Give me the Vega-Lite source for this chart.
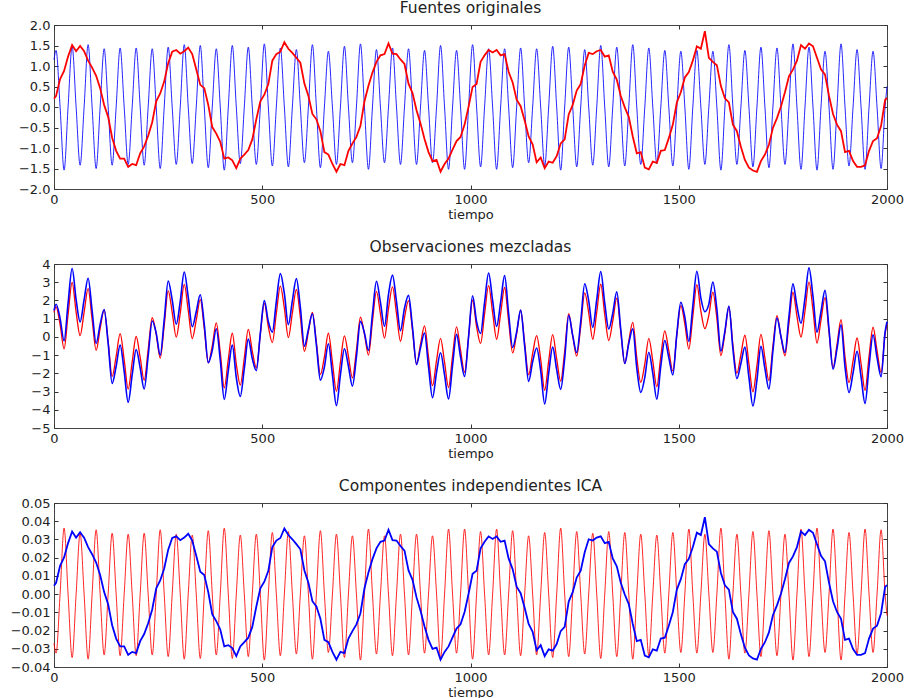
{
"$schema": "https://vega.github.io/schema/vega-lite/v6.json",
"background": "white",
"padding": {"left": 9, "top": 0, "right": 5, "bottom": 0},
"bounds": "flush",
"spacing": 75,
"config": {
"font": "DejaVu Sans",
"view": {"stroke": "#444", "strokeWidth": 1},
"axis": {"grid": false, "domain": false, "tickColor": "#333", "tickSize": -4, "labelPadding": 8, "labelFontSize": 13, "labelColor": "#222", "labelFont": "DejaVu Sans", "titleFont": "DejaVu Sans", "titleFontSize": 13, "titleFontWeight": "normal", "titleColor": "#222", "labelFlush": false, "labelOverlap": false, "titlePadding": 2},
"title": {"fontSize": 15.5, "fontWeight": "normal", "color": "#222", "font": "DejaVu Sans", "offset": 3}
},
"data": {"values": [
{"t":0,"s1":0.2,"s2":1.15,"m1":1.35,"m2":1.45,"c1":-0.027,"c2":0.0046},
{"t":5,"s1":0.27,"s2":1.38,"m1":1.65,"m2":1.79,"c1":-0.0324,"c2":0.0062},
{"t":14.6,"s1":0.68,"s2":0,"m1":0.68,"m2":1.02,"c1":0,"c2":0.0155},
{"t":24.2,"s1":0.88,"s2":-1.54,"m1":-0.66,"m2":-0.22,"c1":0.0362,"c2":0.0201},
{"t":33.8,"s1":1.23,"s2":0,"m1":1.23,"m2":1.85,"c1":0,"c2":0.028},
{"t":43.5,"s1":1.51,"s2":1.48,"m1":2.99,"m2":3.75,"c1":-0.0348,"c2":0.0344},
{"t":53.1,"s1":1.36,"s2":0,"m1":1.36,"m2":2.04,"c1":0,"c2":0.031},
{"t":62.7,"s1":1.49,"s2":-1.42,"m1":0.07,"m2":0.82,"c1":0.0334,"c2":0.034},
{"t":72.3,"s1":1.36,"s2":0,"m1":1.36,"m2":2.04,"c1":0,"c2":0.031},
{"t":81.9,"s1":1.13,"s2":1.52,"m1":2.65,"m2":3.22,"c1":-0.0357,"c2":0.0258},
{"t":91.5,"s1":0.96,"s2":0,"m1":0.96,"m2":1.44,"c1":0,"c2":0.0219},
{"t":101.2,"s1":0.76,"s2":-1.5,"m1":-0.74,"m2":-0.36,"c1":0.0353,"c2":0.0173},
{"t":110.8,"s1":0.46,"s2":0,"m1":0.46,"m2":0.69,"c1":0,"c2":0.0105},
{"t":120.4,"s1":0.05,"s2":1.42,"m1":1.47,"m2":1.5,"c1":-0.0334,"c2":0.0011},
{"t":130,"s1":-0.24,"s2":0,"m1":-0.24,"m2":-0.36,"c1":0,"c2":-0.0055},
{"t":139.6,"s1":-0.75,"s2":-1.42,"m1":-2.17,"m2":-2.55,"c1":0.0334,"c2":-0.0171},
{"t":149.2,"s1":-1.07,"s2":0,"m1":-1.07,"m2":-1.61,"c1":0,"c2":-0.0244},
{"t":158.8,"s1":-1.26,"s2":1.44,"m1":0.18,"m2":-0.45,"c1":-0.0338,"c2":-0.0287},
{"t":168.5,"s1":-1.26,"s2":0,"m1":-1.26,"m2":-1.89,"c1":0,"c2":-0.0287},
{"t":178.1,"s1":-1.46,"s2":-1.4,"m1":-2.86,"m2":-3.59,"c1":0.0329,"c2":-0.0333},
{"t":187.7,"s1":-1.39,"s2":0,"m1":-1.39,"m2":-2.09,"c1":0,"c2":-0.0317},
{"t":197.3,"s1":-1.42,"s2":1.44,"m1":0.02,"m2":-0.69,"c1":-0.0338,"c2":-0.0324},
{"t":206.9,"s1":-1.13,"s2":0,"m1":-1.13,"m2":-1.7,"c1":0,"c2":-0.0258},
{"t":216.5,"s1":-0.96,"s2":-1.42,"m1":-2.38,"m2":-2.86,"c1":0.0334,"c2":-0.0219},
{"t":226.1,"s1":-0.7,"s2":0,"m1":-0.7,"m2":-1.05,"c1":0,"c2":-0.016},
{"t":235.8,"s1":-0.37,"s2":1.42,"m1":1.05,"m2":0.87,"c1":-0.0334,"c2":-0.0084},
{"t":245.4,"s1":0.14,"s2":0,"m1":0.14,"m2":0.21,"c1":0,"c2":0.0032},
{"t":255,"s1":0.33,"s2":-1.5,"m1":-1.17,"m2":-1.01,"c1":0.0353,"c2":0.0075},
{"t":264.6,"s1":0.62,"s2":0,"m1":0.62,"m2":0.93,"c1":0,"c2":0.0141},
{"t":274.2,"s1":1.07,"s2":1.46,"m1":2.53,"m2":3.07,"c1":-0.0343,"c2":0.0244},
{"t":283.8,"s1":1.35,"s2":0,"m1":1.35,"m2":2.03,"c1":0,"c2":0.0308},
{"t":293.5,"s1":1.39,"s2":-1.4,"m1":-0.01,"m2":0.69,"c1":0.0329,"c2":0.0317},
{"t":303.1,"s1":1.3,"s2":0,"m1":1.3,"m2":1.95,"c1":0,"c2":0.0296},
{"t":312.7,"s1":1.36,"s2":1.52,"m1":2.88,"m2":3.56,"c1":-0.0357,"c2":0.031},
{"t":322.3,"s1":1.45,"s2":0,"m1":1.45,"m2":2.18,"c1":0,"c2":0.0331},
{"t":331.9,"s1":1.29,"s2":-1.38,"m1":-0.09,"m2":0.56,"c1":0.0324,"c2":0.0294},
{"t":341.5,"s1":0.92,"s2":0,"m1":0.92,"m2":1.38,"c1":0,"c2":0.021},
{"t":351.2,"s1":0.54,"s2":1.5,"m1":2.04,"m2":2.31,"c1":-0.0353,"c2":0.0123},
{"t":360.8,"s1":0.46,"s2":0,"m1":0.46,"m2":0.69,"c1":0,"c2":0.0105},
{"t":370.4,"s1":0.05,"s2":-1.48,"m1":-1.43,"m2":-1.41,"c1":0.0348,"c2":0.0011},
{"t":380,"s1":-0.49,"s2":0,"m1":-0.49,"m2":-0.74,"c1":0,"c2":-0.0112},
{"t":389.6,"s1":-0.65,"s2":1.42,"m1":0.77,"m2":0.45,"c1":-0.0334,"c2":-0.0148},
{"t":399.2,"s1":-0.85,"s2":0,"m1":-0.85,"m2":-1.28,"c1":0,"c2":-0.0194},
{"t":408.8,"s1":-1.26,"s2":-1.54,"m1":-2.8,"m2":-3.43,"c1":0.0362,"c2":-0.0287},
{"t":418.5,"s1":-1.23,"s2":0,"m1":-1.23,"m2":-1.85,"c1":0,"c2":-0.028},
{"t":428.1,"s1":-1.3,"s2":1.5,"m1":0.2,"m2":-0.45,"c1":-0.0353,"c2":-0.0296},
{"t":437.7,"s1":-1.49,"s2":0,"m1":-1.49,"m2":-2.24,"c1":0,"c2":-0.034},
{"t":447.3,"s1":-1.26,"s2":-1.38,"m1":-2.64,"m2":-3.27,"c1":0.0324,"c2":-0.0287},
{"t":456.9,"s1":-1.16,"s2":0,"m1":-1.16,"m2":-1.74,"c1":0,"c2":-0.0264},
{"t":466.5,"s1":-1.05,"s2":1.46,"m1":0.41,"m2":-0.12,"c1":-0.0343,"c2":-0.0239},
{"t":476.1,"s1":-0.79,"s2":0,"m1":-0.79,"m2":-1.19,"c1":0,"c2":-0.018},
{"t":485.8,"s1":-0.3,"s2":-1.4,"m1":-1.7,"m2":-1.85,"c1":0.0329,"c2":-0.0068},
{"t":495.4,"s1":0.14,"s2":0,"m1":0.14,"m2":0.21,"c1":0,"c2":0.0032},
{"t":505,"s1":0.3,"s2":1.54,"m1":1.84,"m2":1.99,"c1":-0.0362,"c2":0.0068},
{"t":514.6,"s1":0.56,"s2":0,"m1":0.56,"m2":0.84,"c1":0,"c2":0.0128},
{"t":524.2,"s1":1.13,"s2":-1.44,"m1":-0.31,"m2":0.26,"c1":0.0338,"c2":0.0258},
{"t":533.8,"s1":1.29,"s2":0,"m1":1.29,"m2":1.94,"c1":0,"c2":0.0294},
{"t":543.5,"s1":1.35,"s2":1.44,"m1":2.79,"m2":3.47,"c1":-0.0338,"c2":0.0308},
{"t":553.1,"s1":1.58,"s2":0,"m1":1.58,"m2":2.37,"c1":0,"c2":0.036},
{"t":562.7,"s1":1.42,"s2":-1.46,"m1":-0.04,"m2":0.67,"c1":0.0343,"c2":0.0324},
{"t":572.3,"s1":1.32,"s2":0,"m1":1.32,"m2":1.98,"c1":0,"c2":0.0301},
{"t":581.9,"s1":1.2,"s2":1.4,"m1":2.6,"m2":3.2,"c1":-0.0329,"c2":0.0274},
{"t":591.5,"s1":1.08,"s2":0,"m1":1.08,"m2":1.62,"c1":0,"c2":0.0246},
{"t":601.2,"s1":0.57,"s2":-1.36,"m1":-0.79,"m2":-0.51,"c1":0.032,"c2":0.013},
{"t":610.8,"s1":0.27,"s2":0,"m1":0.27,"m2":0.41,"c1":0,"c2":0.0062},
{"t":620.4,"s1":-0.17,"s2":1.52,"m1":1.35,"m2":1.27,"c1":-0.0357,"c2":-0.0039},
{"t":630,"s1":-0.3,"s2":0,"m1":-0.3,"m2":-0.45,"c1":0,"c2":-0.0068},
{"t":639.6,"s1":-0.59,"s2":-1.48,"m1":-2.07,"m2":-2.37,"c1":0.0348,"c2":-0.0135},
{"t":649.2,"s1":-1.1,"s2":0,"m1":-1.1,"m2":-1.65,"c1":0,"c2":-0.0251},
{"t":658.8,"s1":-1.16,"s2":1.36,"m1":0.2,"m2":-0.38,"c1":-0.032,"c2":-0.0264},
{"t":668.5,"s1":-1.39,"s2":0,"m1":-1.39,"m2":-2.09,"c1":0,"c2":-0.0317},
{"t":678.1,"s1":-1.58,"s2":-1.4,"m1":-2.98,"m2":-3.77,"c1":0.0329,"c2":-0.036},
{"t":687.7,"s1":-1.39,"s2":0,"m1":-1.39,"m2":-2.09,"c1":0,"c2":-0.0317},
{"t":697.3,"s1":-1.42,"s2":1.48,"m1":0.06,"m2":-0.65,"c1":-0.0348,"c2":-0.0324},
{"t":706.9,"s1":-1.07,"s2":0,"m1":-1.07,"m2":-1.61,"c1":0,"c2":-0.0244},
{"t":716.5,"s1":-0.89,"s2":-1.36,"m1":-2.25,"m2":-2.7,"c1":0.032,"c2":-0.0203},
{"t":726.1,"s1":-0.73,"s2":0,"m1":-0.73,"m2":-1.1,"c1":0,"c2":-0.0166},
{"t":735.8,"s1":-0.46,"s2":1.54,"m1":1.08,"m2":0.85,"c1":-0.0362,"c2":-0.0105},
{"t":745.4,"s1":0.14,"s2":0,"m1":0.14,"m2":0.21,"c1":0,"c2":0.0032},
{"t":755,"s1":0.52,"s2":-1.52,"m1":-1,"m2":-0.74,"c1":0.0357,"c2":0.0119},
{"t":764.6,"s1":0.84,"s2":0,"m1":0.84,"m2":1.26,"c1":0,"c2":0.0192},
{"t":774.2,"s1":1.1,"s2":1.4,"m1":2.5,"m2":3.05,"c1":-0.0329,"c2":0.0251},
{"t":783.8,"s1":1.26,"s2":0,"m1":1.26,"m2":1.89,"c1":0,"c2":0.0287},
{"t":793.5,"s1":1.29,"s2":-1.36,"m1":-0.07,"m2":0.58,"c1":0.032,"c2":0.0294},
{"t":803.1,"s1":1.55,"s2":0,"m1":1.55,"m2":2.33,"c1":0,"c2":0.0353},
{"t":812.7,"s1":1.3,"s2":1.44,"m1":2.74,"m2":3.39,"c1":-0.0338,"c2":0.0296},
{"t":822.3,"s1":1.29,"s2":0,"m1":1.29,"m2":1.94,"c1":0,"c2":0.0294},
{"t":831.9,"s1":1.16,"s2":-1.4,"m1":-0.24,"m2":0.34,"c1":0.0329,"c2":0.0264},
{"t":841.5,"s1":1.05,"s2":0,"m1":1.05,"m2":1.58,"c1":0,"c2":0.0239},
{"t":851.2,"s1":0.57,"s2":1.42,"m1":1.99,"m2":2.28,"c1":-0.0334,"c2":0.013},
{"t":860.8,"s1":0.34,"s2":0,"m1":0.34,"m2":0.51,"c1":0,"c2":0.0078},
{"t":870.4,"s1":-0.08,"s2":-1.4,"m1":-1.48,"m2":-1.52,"c1":0.0329,"c2":-0.0018},
{"t":880,"s1":-0.4,"s2":0,"m1":-0.4,"m2":-0.6,"c1":0,"c2":-0.0091},
{"t":889.6,"s1":-0.78,"s2":1.38,"m1":0.6,"m2":0.21,"c1":-0.0324,"c2":-0.0178},
{"t":899.2,"s1":-1.1,"s2":0,"m1":-1.1,"m2":-1.65,"c1":0,"c2":-0.0251},
{"t":908.8,"s1":-1.32,"s2":-1.36,"m1":-2.68,"m2":-3.34,"c1":0.032,"c2":-0.0301},
{"t":918.5,"s1":-1.29,"s2":0,"m1":-1.29,"m2":-1.94,"c1":0,"c2":-0.0294},
{"t":928.1,"s1":-1.58,"s2":1.5,"m1":-0.08,"m2":-0.87,"c1":-0.0353,"c2":-0.036},
{"t":937.7,"s1":-1.39,"s2":0,"m1":-1.39,"m2":-2.09,"c1":0,"c2":-0.0317},
{"t":947.3,"s1":-1.26,"s2":-1.52,"m1":-2.78,"m2":-3.41,"c1":0.0357,"c2":-0.0287},
{"t":956.9,"s1":-1.04,"s2":0,"m1":-1.04,"m2":-1.56,"c1":0,"c2":-0.0237},
{"t":966.5,"s1":-0.83,"s2":1.38,"m1":0.55,"m2":0.14,"c1":-0.0324,"c2":-0.0189},
{"t":976.1,"s1":-0.73,"s2":0,"m1":-0.73,"m2":-1.1,"c1":0,"c2":-0.0166},
{"t":985.8,"s1":-0.43,"s2":-1.52,"m1":-1.95,"m2":-2.17,"c1":0.0357,"c2":-0.0098},
{"t":995.4,"s1":0.01,"s2":0,"m1":0.01,"m2":0.02,"c1":0,"c2":0.0002},
{"t":1005,"s1":0.49,"s2":1.52,"m1":2.01,"m2":2.26,"c1":-0.0357,"c2":0.0112},
{"t":1014.6,"s1":0.56,"s2":0,"m1":0.56,"m2":0.84,"c1":0,"c2":0.0128},
{"t":1024.2,"s1":1.1,"s2":-1.46,"m1":-0.36,"m2":0.19,"c1":0.0343,"c2":0.0251},
{"t":1033.8,"s1":1.26,"s2":0,"m1":1.26,"m2":1.89,"c1":0,"c2":0.0287},
{"t":1043.5,"s1":1.39,"s2":1.42,"m1":2.81,"m2":3.51,"c1":-0.0334,"c2":0.0317},
{"t":1053.1,"s1":1.33,"s2":0,"m1":1.33,"m2":2,"c1":0,"c2":0.0303},
{"t":1062.7,"s1":1.39,"s2":-1.52,"m1":-0.13,"m2":0.57,"c1":0.0357,"c2":0.0317},
{"t":1072.3,"s1":1.26,"s2":0,"m1":1.26,"m2":1.89,"c1":0,"c2":0.0287},
{"t":1081.9,"s1":1.29,"s2":1.42,"m1":2.71,"m2":3.36,"c1":-0.0334,"c2":0.0294},
{"t":1091.5,"s1":0.86,"s2":0,"m1":0.86,"m2":1.29,"c1":0,"c2":0.0196},
{"t":1101.2,"s1":0.6,"s2":-1.48,"m1":-0.88,"m2":-0.58,"c1":0.0348,"c2":0.0137},
{"t":1110.8,"s1":0.18,"s2":0,"m1":0.18,"m2":0.27,"c1":0,"c2":0.0041},
{"t":1120.4,"s1":0.02,"s2":1.44,"m1":1.46,"m2":1.47,"c1":-0.0338,"c2":0.0005},
{"t":1130,"s1":-0.33,"s2":0,"m1":-0.33,"m2":-0.5,"c1":0,"c2":-0.0075},
{"t":1139.6,"s1":-0.72,"s2":-1.36,"m1":-2.08,"m2":-2.44,"c1":0.032,"c2":-0.0164},
{"t":1149.2,"s1":-0.91,"s2":0,"m1":-0.91,"m2":-1.37,"c1":0,"c2":-0.0207},
{"t":1158.8,"s1":-1.35,"s2":1.42,"m1":0.07,"m2":-0.61,"c1":-0.0334,"c2":-0.0308},
{"t":1168.5,"s1":-1.23,"s2":0,"m1":-1.23,"m2":-1.85,"c1":0,"c2":-0.028},
{"t":1178.1,"s1":-1.49,"s2":-1.44,"m1":-2.93,"m2":-3.68,"c1":0.0338,"c2":-0.034},
{"t":1187.7,"s1":-1.33,"s2":0,"m1":-1.33,"m2":-2,"c1":0,"c2":-0.0303},
{"t":1197.3,"s1":-1.36,"s2":1.48,"m1":0.12,"m2":-0.56,"c1":-0.0348,"c2":-0.031},
{"t":1206.9,"s1":-1.2,"s2":0,"m1":-1.2,"m2":-1.8,"c1":0,"c2":-0.0274},
{"t":1216.5,"s1":-0.89,"s2":-1.54,"m1":-2.43,"m2":-2.88,"c1":0.0362,"c2":-0.0203},
{"t":1226.1,"s1":-0.79,"s2":0,"m1":-0.79,"m2":-1.19,"c1":0,"c2":-0.018},
{"t":1235.8,"s1":-0.18,"s2":1.46,"m1":1.28,"m2":1.19,"c1":-0.0343,"c2":-0.0041},
{"t":1245.4,"s1":0.05,"s2":0,"m1":0.05,"m2":0.08,"c1":0,"c2":0.0011},
{"t":1255,"s1":0.4,"s2":-1.46,"m1":-1.06,"m2":-0.86,"c1":0.0343,"c2":0.0091},
{"t":1264.6,"s1":0.56,"s2":0,"m1":0.56,"m2":0.84,"c1":0,"c2":0.0128},
{"t":1274.2,"s1":1.01,"s2":1.4,"m1":2.41,"m2":2.92,"c1":-0.0329,"c2":0.023},
{"t":1283.8,"s1":1.32,"s2":0,"m1":1.32,"m2":1.98,"c1":0,"c2":0.0301},
{"t":1293.5,"s1":1.29,"s2":-1.42,"m1":-0.13,"m2":0.52,"c1":0.0334,"c2":0.0294},
{"t":1303.1,"s1":1.36,"s2":0,"m1":1.36,"m2":2.04,"c1":0,"c2":0.031},
{"t":1312.7,"s1":1.39,"s2":1.5,"m1":2.89,"m2":3.59,"c1":-0.0353,"c2":0.0317},
{"t":1322.3,"s1":1.23,"s2":0,"m1":1.23,"m2":1.85,"c1":0,"c2":0.028},
{"t":1331.9,"s1":1.26,"s2":-1.46,"m1":-0.2,"m2":0.43,"c1":0.0343,"c2":0.0287},
{"t":1341.5,"s1":0.86,"s2":0,"m1":0.86,"m2":1.29,"c1":0,"c2":0.0196},
{"t":1351.2,"s1":0.67,"s2":1.46,"m1":2.13,"m2":2.47,"c1":-0.0343,"c2":0.0153},
{"t":1360.8,"s1":0.27,"s2":0,"m1":0.27,"m2":0.41,"c1":0,"c2":0.0062},
{"t":1370.4,"s1":-0.01,"s2":-1.44,"m1":-1.45,"m2":-1.46,"c1":0.0338,"c2":-0.0002},
{"t":1380,"s1":-0.24,"s2":0,"m1":-0.24,"m2":-0.36,"c1":0,"c2":-0.0055},
{"t":1389.6,"s1":-0.72,"s2":1.52,"m1":0.8,"m2":0.44,"c1":-0.0357,"c2":-0.0164},
{"t":1399.2,"s1":-1.13,"s2":0,"m1":-1.13,"m2":-1.7,"c1":0,"c2":-0.0258},
{"t":1408.8,"s1":-1.1,"s2":-1.4,"m1":-2.5,"m2":-3.05,"c1":0.0329,"c2":-0.0251},
{"t":1418.5,"s1":-1.48,"s2":0,"m1":-1.48,"m2":-2.22,"c1":0,"c2":-0.0337},
{"t":1428.1,"s1":-1.52,"s2":1.44,"m1":-0.08,"m2":-0.84,"c1":-0.0338,"c2":-0.0347},
{"t":1437.7,"s1":-1.33,"s2":0,"m1":-1.33,"m2":-2,"c1":0,"c2":-0.0303},
{"t":1447.3,"s1":-1.36,"s2":-1.38,"m1":-2.74,"m2":-3.42,"c1":0.0324,"c2":-0.031},
{"t":1456.9,"s1":-1.07,"s2":0,"m1":-1.07,"m2":-1.61,"c1":0,"c2":-0.0244},
{"t":1466.5,"s1":-1.05,"s2":1.38,"m1":0.33,"m2":-0.2,"c1":-0.0324,"c2":-0.0239},
{"t":1476.1,"s1":-0.76,"s2":0,"m1":-0.76,"m2":-1.14,"c1":0,"c2":-0.0173},
{"t":1485.8,"s1":-0.43,"s2":-1.44,"m1":-1.87,"m2":-2.09,"c1":0.0338,"c2":-0.0098},
{"t":1495.4,"s1":0.11,"s2":0,"m1":0.11,"m2":0.17,"c1":0,"c2":0.0025},
{"t":1505,"s1":0.36,"s2":1.36,"m1":1.72,"m2":1.9,"c1":-0.032,"c2":0.0082},
{"t":1514.6,"s1":0.72,"s2":0,"m1":0.72,"m2":1.08,"c1":0,"c2":0.0164},
{"t":1524.2,"s1":0.85,"s2":-1.52,"m1":-0.67,"m2":-0.25,"c1":0.0357,"c2":0.0194},
{"t":1533.8,"s1":1.13,"s2":0,"m1":1.13,"m2":1.7,"c1":0,"c2":0.0258},
{"t":1543.5,"s1":1.48,"s2":1.38,"m1":2.86,"m2":3.6,"c1":-0.0324,"c2":0.0337},
{"t":1553.1,"s1":1.42,"s2":0,"m1":1.42,"m2":2.13,"c1":0,"c2":0.0324},
{"t":1562.7,"s1":1.85,"s2":-1.4,"m1":0.45,"m2":1.38,"c1":0.0329,"c2":0.0422},
{"t":1572.3,"s1":1.2,"s2":0,"m1":1.2,"m2":1.8,"c1":0,"c2":0.0274},
{"t":1581.9,"s1":1.1,"s2":1.36,"m1":2.46,"m2":3.01,"c1":-0.032,"c2":0.0251},
{"t":1591.5,"s1":1.02,"s2":0,"m1":1.02,"m2":1.53,"c1":0,"c2":0.0233},
{"t":1601.2,"s1":0.51,"s2":-1.54,"m1":-1.03,"m2":-0.78,"c1":0.0362,"c2":0.0116},
{"t":1610.8,"s1":0.21,"s2":0,"m1":0.21,"m2":0.32,"c1":0,"c2":0.0048},
{"t":1620.4,"s1":0.11,"s2":1.52,"m1":1.63,"m2":1.69,"c1":-0.0357,"c2":0.0025},
{"t":1630,"s1":-0.43,"s2":0,"m1":-0.43,"m2":-0.65,"c1":0,"c2":-0.0098},
{"t":1639.6,"s1":-0.59,"s2":-1.4,"m1":-1.99,"m2":-2.29,"c1":0.0329,"c2":-0.0135},
{"t":1649.2,"s1":-0.97,"s2":0,"m1":-0.97,"m2":-1.46,"c1":0,"c2":-0.0221},
{"t":1658.8,"s1":-1.29,"s2":1.38,"m1":0.09,"m2":-0.56,"c1":-0.0324,"c2":-0.0294},
{"t":1668.5,"s1":-1.48,"s2":0,"m1":-1.48,"m2":-2.22,"c1":0,"c2":-0.0337},
{"t":1678.1,"s1":-1.55,"s2":-1.46,"m1":-3.01,"m2":-3.79,"c1":0.0343,"c2":-0.0353},
{"t":1687.7,"s1":-1.58,"s2":0,"m1":-1.58,"m2":-2.37,"c1":0,"c2":-0.036},
{"t":1697.3,"s1":-1.32,"s2":1.46,"m1":0.14,"m2":-0.52,"c1":-0.0343,"c2":-0.0301},
{"t":1706.9,"s1":-1.16,"s2":0,"m1":-1.16,"m2":-1.74,"c1":0,"c2":-0.0264},
{"t":1716.5,"s1":-0.92,"s2":-1.48,"m1":-2.4,"m2":-2.86,"c1":0.0348,"c2":-0.021},
{"t":1726.1,"s1":-0.51,"s2":0,"m1":-0.51,"m2":-0.77,"c1":0,"c2":-0.0116},
{"t":1735.8,"s1":-0.27,"s2":1.44,"m1":1.17,"m2":1.04,"c1":-0.0338,"c2":-0.0062},
{"t":1745.4,"s1":0.01,"s2":0,"m1":0.01,"m2":0.02,"c1":0,"c2":0.0002},
{"t":1755,"s1":0.36,"s2":-1.4,"m1":-1.04,"m2":-0.86,"c1":0.0329,"c2":0.0082},
{"t":1764.6,"s1":0.75,"s2":0,"m1":0.75,"m2":1.13,"c1":0,"c2":0.0171},
{"t":1774.2,"s1":0.91,"s2":1.54,"m1":2.45,"m2":2.91,"c1":-0.0362,"c2":0.0207},
{"t":1783.8,"s1":1.13,"s2":0,"m1":1.13,"m2":1.7,"c1":0,"c2":0.0258},
{"t":1793.5,"s1":1.51,"s2":-1.52,"m1":-0.01,"m2":0.75,"c1":0.0357,"c2":0.0344},
{"t":1803.1,"s1":1.42,"s2":0,"m1":1.42,"m2":2.13,"c1":0,"c2":0.0324},
{"t":1812.7,"s1":1.55,"s2":1.46,"m1":3.01,"m2":3.79,"c1":-0.0343,"c2":0.0353},
{"t":1822.3,"s1":1.48,"s2":0,"m1":1.48,"m2":2.22,"c1":0,"c2":0.0337},
{"t":1831.9,"s1":1.2,"s2":-1.54,"m1":-0.34,"m2":0.26,"c1":0.0362,"c2":0.0274},
{"t":1841.5,"s1":0.92,"s2":0,"m1":0.92,"m2":1.38,"c1":0,"c2":0.021},
{"t":1851.2,"s1":0.79,"s2":1.36,"m1":2.15,"m2":2.55,"c1":-0.032,"c2":0.018},
{"t":1860.8,"s1":0.27,"s2":0,"m1":0.27,"m2":0.41,"c1":0,"c2":0.0062},
{"t":1870.4,"s1":-0.17,"s2":-1.52,"m1":-1.69,"m2":-1.78,"c1":0.0357,"c2":-0.0039},
{"t":1880,"s1":-0.43,"s2":0,"m1":-0.43,"m2":-0.65,"c1":0,"c2":-0.0098},
{"t":1889.6,"s1":-0.59,"s2":1.54,"m1":0.95,"m2":0.66,"c1":-0.0362,"c2":-0.0135},
{"t":1899.2,"s1":-1.1,"s2":0,"m1":-1.1,"m2":-1.65,"c1":0,"c2":-0.0251},
{"t":1908.8,"s1":-1.07,"s2":-1.44,"m1":-2.51,"m2":-3.05,"c1":0.0338,"c2":-0.0244},
{"t":1918.5,"s1":-1.32,"s2":0,"m1":-1.32,"m2":-1.98,"c1":0,"c2":-0.0301},
{"t":1928.1,"s1":-1.46,"s2":1.4,"m1":-0.06,"m2":-0.79,"c1":-0.0329,"c2":-0.0333},
{"t":1937.7,"s1":-1.46,"s2":0,"m1":-1.46,"m2":-2.19,"c1":0,"c2":-0.0333},
{"t":1947.3,"s1":-1.42,"s2":-1.52,"m1":-2.94,"m2":-3.65,"c1":0.0357,"c2":-0.0324},
{"t":1956.9,"s1":-1.07,"s2":0,"m1":-1.07,"m2":-1.61,"c1":0,"c2":-0.0244},
{"t":1966.5,"s1":-0.83,"s2":1.36,"m1":0.53,"m2":0.12,"c1":-0.032,"c2":-0.0189},
{"t":1976.1,"s1":-0.76,"s2":0,"m1":-0.76,"m2":-1.14,"c1":0,"c2":-0.0173},
{"t":1985.8,"s1":-0.46,"s2":-1.5,"m1":-1.96,"m2":-2.19,"c1":0.0353,"c2":-0.0105},
{"t":1995.4,"s1":0.17,"s2":0,"m1":0.17,"m2":0.26,"c1":0,"c2":0.0039},
{"t":2000,"s1":0.22,"s2":0.5,"m1":0.72,"m2":0.83,"c1":-0.0118,"c2":0.005}
]},
"vconcat": [
{
"width": 833, "height": 164,
"title": {"text": "Fuentes originales"},
"resolve": {"axis": {"x": "independent", "y": "independent"}},
"layer": [
{"mark": {"type": "line", "color": "#0000ff", "strokeWidth": 1, "opacity": 0.85, "interpolate": "monotone"}, "encoding": {
"x": {"field": "t", "type": "quantitative", "scale": {"domain": [0, 2000], "nice": false}, "axis": {"values": [0, 500, 1000, 1500, 2000], "format": "d", "title": "tiempo"}},
"y": {"field": "s2", "type": "quantitative", "scale": {"domain": [-2, 2], "nice": false}, "axis": {"values": [-2, -1.5, -1, -0.5, 0, 0.5, 1, 1.5, 2], "format": ".1f", "title": null}}}},
{"mark": {"type": "line", "color": "#ff0000", "strokeWidth": 1.8}, "encoding": {
"x": {"field": "t", "type": "quantitative", "scale": {"domain": [0, 2000], "nice": false}, "axis": {"orient": "top", "values": [0, 500, 1000, 1500, 2000], "labels": false, "title": null}},
"y": {"field": "s1", "type": "quantitative", "scale": {"domain": [-2, 2], "nice": false}, "axis": {"orient": "right", "values": [-2, -1.5, -1, -0.5, 0, 0.5, 1, 1.5, 2], "labels": false, "title": null}}}}
]
},
{
"width": 833, "height": 164,
"title": {"text": "Observaciones mezcladas"},
"resolve": {"axis": {"x": "independent", "y": "independent"}},
"layer": [
{"mark": {"type": "line", "color": "#ff0000", "strokeWidth": 1.3, "interpolate": "monotone"}, "encoding": {
"x": {"field": "t", "type": "quantitative", "scale": {"domain": [0, 2000], "nice": false}, "axis": {"values": [0, 500, 1000, 1500, 2000], "format": "d", "title": "tiempo"}},
"y": {"field": "m1", "type": "quantitative", "scale": {"domain": [-5, 4], "nice": false}, "axis": {"values": [-5, -4, -3, -2, -1, 0, 1, 2, 3, 4], "format": "d", "title": null}}}},
{"mark": {"type": "line", "color": "#0000ff", "strokeWidth": 1.6, "interpolate": "monotone"}, "encoding": {
"x": {"field": "t", "type": "quantitative", "scale": {"domain": [0, 2000], "nice": false}, "axis": {"orient": "top", "values": [0, 500, 1000, 1500, 2000], "labels": false, "title": null}},
"y": {"field": "m2", "type": "quantitative", "scale": {"domain": [-5, 4], "nice": false}, "axis": {"orient": "right", "values": [-5, -4, -3, -2, -1, 0, 1, 2, 3, 4], "labels": false, "title": null}}}}
]
},
{
"width": 833, "height": 164,
"title": {"text": "Componentes independientes ICA"},
"resolve": {"axis": {"x": "independent", "y": "independent"}},
"layer": [
{"mark": {"type": "line", "color": "#ff0000", "strokeWidth": 1, "opacity": 0.85, "interpolate": "monotone"}, "encoding": {
"x": {"field": "t", "type": "quantitative", "scale": {"domain": [0, 2000], "nice": false}, "axis": {"values": [0, 500, 1000, 1500, 2000], "format": "d", "title": "tiempo"}},
"y": {"field": "c1", "type": "quantitative", "scale": {"domain": [-0.04, 0.05], "nice": false}, "axis": {"values": [-0.04, -0.03, -0.02, -0.01, 0, 0.01, 0.02, 0.03, 0.04, 0.05], "format": ".2f", "title": null}}}},
{"mark": {"type": "line", "color": "#0000ff", "strokeWidth": 1.8}, "encoding": {
"x": {"field": "t", "type": "quantitative", "scale": {"domain": [0, 2000], "nice": false}, "axis": {"orient": "top", "values": [0, 500, 1000, 1500, 2000], "labels": false, "title": null}},
"y": {"field": "c2", "type": "quantitative", "scale": {"domain": [-0.04, 0.05], "nice": false}, "axis": {"orient": "right", "values": [-0.04, -0.03, -0.02, -0.01, 0, 0.01, 0.02, 0.03, 0.04, 0.05], "labels": false, "title": null}}}}
]
}
]
}
